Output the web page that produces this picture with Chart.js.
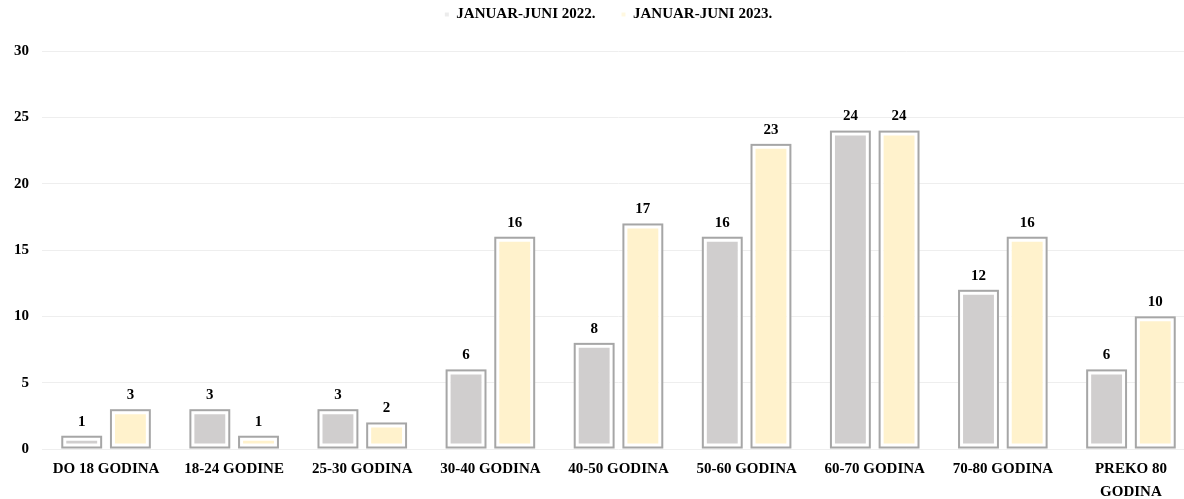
<!DOCTYPE html>
<html>
<head>
<meta charset="utf-8">
<script src="https://cdn.jsdelivr.net/npm/chart.js@4"></script>
<style>
  html, body { margin: 0; padding: 0; background: #fff; overflow: hidden; }
  #wrap { width: 1195px; height: 499px; position: relative; }
</style>
</head>
<body>
<div id="wrap"><canvas id="c"></canvas></div>
<script>
const categories = ['DO 18 GODINA', '18-24 GODINE', '25-30 GODINA', '30-40 GODINA', '40-50 GODINA', '50-60 GODINA', '60-70 GODINA', '70-80 GODINA', ['PREKO 80', 'GODINA']];
const seriesNames = ['JANUAR-JUNI 2022.', 'JANUAR-JUNI 2023.'];
const values2022 = [1, 3, 3, 6, 8, 16, 24, 12, 6];
const values2023 = [3, 1, 2, 16, 17, 23, 24, 16, 10];
const yTicks = [0, 5, 10, 15, 20, 25, 30];

const FONT = "'Liberation Serif', 'DejaVu Serif', serif";
const OUTLINE = '#a6a6a6';

const outlinePlugin = {
  id: 'outline',
  afterDatasetsDraw(chart) {
    const ctx = chart.ctx;
    ctx.save();
    chart.data.datasets.forEach((ds, di) => {
      const meta = chart.getDatasetMeta(di);
      meta.data.forEach((bar) => {
        const p = bar.getProps(['x', 'y', 'base', 'width'], true);
        const left = p.x - p.width / 2, right = p.x + p.width / 2;
        const top = Math.min(p.y, p.base), bottom = Math.max(p.y, p.base);
        ctx.strokeStyle = OUTLINE;
        ctx.lineWidth = 2;
        ctx.strokeRect(left + 1, top + 1, right - left - 2, bottom - top - 2);
      });
    });
    ctx.restore();
  }
};

const valueLabels = {
  id: 'valueLabels',
  afterDatasetsDraw(chart) {
    const ctx = chart.ctx;
    ctx.save();
    ctx.font = "bold 15px " + FONT;
    ctx.fillStyle = '#000';
    ctx.textAlign = 'center';
    ctx.textBaseline = 'middle';
    chart.data.datasets.forEach((ds, di) => {
      const meta = chart.getDatasetMeta(di);
      meta.data.forEach((bar, i) => {
        ctx.fillText(String(ds.data[i]), bar.x, bar.y - 14);
      });
    });
    ctx.restore();
  }
};

const legendFit = {
  id: 'legendFit',
  beforeInit(chart) {
    const orig = chart.legend.fit;
    chart.legend.fit = function () {
      orig.call(this);
      this.height += 19;
    };
  },
  afterLayout(chart) {
    chart.legend.left += 11;
    chart.legend.right += 11;
  }
};

new Chart(document.getElementById('c'), {
  type: 'bar',
  data: {
    labels: categories,
    datasets: [
      {
        label: seriesNames[0],
        data: values2022,
        backgroundColor: '#d0cece',
        borderColor: '#ffffff',
        borderWidth: 5,
        borderSkipped: false,
        barPercentage: 0.84,
        categoryPercentage: 0.76
      },
      {
        label: seriesNames[1],
        data: values2023,
        backgroundColor: '#fff2cc',
        borderColor: '#ffffff',
        borderWidth: 5,
        borderSkipped: false,
        barPercentage: 0.84,
        categoryPercentage: 0.76
      }
    ]
  },
  options: {
    responsive: true,
    maintainAspectRatio: false,
    animation: false,
    layout: { padding: { top: -19, left: 0, right: 0, bottom: 0 } },
    plugins: {
      tooltip: { enabled: false },
      legend: {
        position: 'top',
        labels: {
          color: '#000',
          font: { family: FONT, size: 15, weight: 'bold' },
          boxWidth: 4,
          boxHeight: 4,
          padding: 26,
          generateLabels(chart) {
            return chart.data.datasets.map((ds, i) => ({
              text: ds.label,
              fillStyle: i === 0 ? '#ececec' : '#fff8e0',
              strokeStyle: 'rgba(0,0,0,0)',
              lineWidth: 0,
              fontColor: '#000',
              datasetIndex: i
            }));
          }
        }
      }
    },
    scales: {
      x: {
        grid: { display: false, drawTicks: false },
        border: { display: false },
        ticks: {
          color: '#000',
          font: { family: FONT, size: 15, weight: 'bold', lineHeight: 1.5 },
          padding: 9,
          maxRotation: 0,
          autoSkip: false
        },
        afterFit(scale) { scale.height = 50; }
      },
      y: {
        min: 0,
        max: 30,
        afterBuildTicks(scale) { scale.ticks = yTicks.map(v => ({ value: v })); },
        grid: { color: '#eeeeee', lineWidth: 1, drawTicks: false },
        border: { display: false },
        ticks: {
          color: '#000',
          font: { family: FONT, size: 15, weight: 'bold' },
          padding: 13
        },
        afterFit(scale) { scale.width = 42; }
      }
    }
  },
  plugins: [outlinePlugin, valueLabels, legendFit]
});
</script>
</body>
</html>
